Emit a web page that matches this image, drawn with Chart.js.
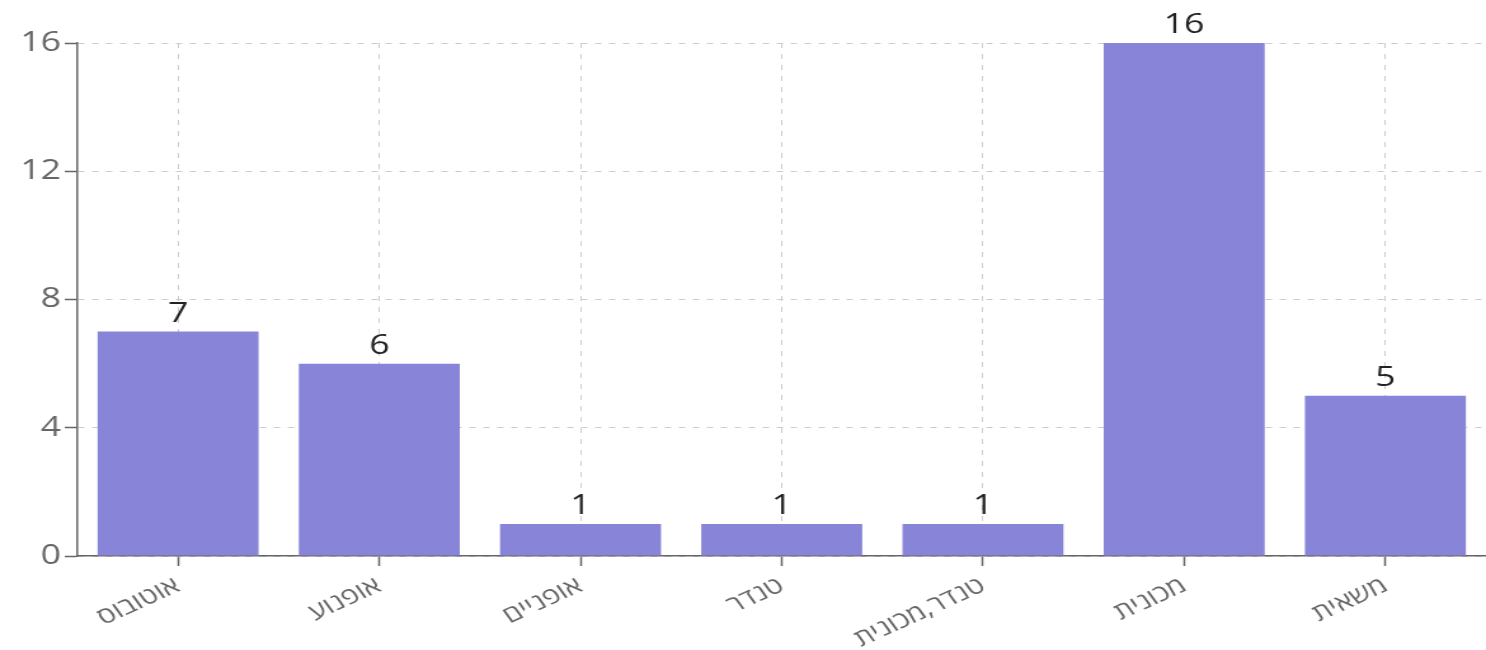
<!DOCTYPE html>
<html>
<head>
<meta charset="utf-8">
<script src="https://cdn.jsdelivr.net/npm/chart.js@4.4.1/dist/chart.umd.min.js"></script>
<style>
  html, body { margin: 0; padding: 0; background: #fff; overflow: hidden; }
  #chart { display: block; }
</style>
</head>
<body>
<!-- drawn narrower, then stretched sideways like the reference -->
<canvas id="chart" width="1170" height="650" style="width:1486px;height:650px"></canvas>
<script>
// categories and counts
const categories = ['אוטובוס', 'אופנוע', 'אופניים', 'טנדר', 'טנדר,מכונית', 'מכונית', 'משאית'];
const counts = [7, 6, 1, 1, 1, 16, 5];
const yTicks = [0, 4, 8, 12, 16];

const FONT = "'Open Sans', 'DejaVu Sans', sans-serif";

// numbers above each bar
const valueLabels = {
  id: 'valueLabels',
  afterDatasetsDraw(chart) {
    const ctx = chart.ctx;
    const meta = chart.getDatasetMeta(0);
    ctx.save();
    ctx.fillStyle = '#222';
    ctx.font = '28px ' + FONT;
    ctx.textAlign = 'center';
    ctx.textBaseline = 'alphabetic';
    meta.data.forEach((bar, i) => {
      ctx.fillText(String(counts[i]), bar.x, bar.y - 10);
    });
    ctx.restore();
  },
};

new Chart(document.getElementById('chart'), {
  type: 'bar',
  data: {
    labels: categories,
    datasets: [{
      data: counts,
      backgroundColor: '#8884d8',
      borderWidth: 0,
      categoryPercentage: 0.8,
      barPercentage: 1,
    }],
  },
  options: {
    responsive: false,
    animation: false,
    layout: { padding: { top: 43, left: 0, right: 0, bottom: 0 } },
    plugins: {
      legend: { display: false },
      tooltip: { enabled: false },
    },
    scales: {
      x: {
        afterFit: s => { s.height = 94; },
        grid: {
          offset: false,
          color: '#ccc',
          tickColor: '#666',
          tickLength: 10,
          tickWidth: 1.5,
        },
        border: { color: '#666', width: 1.5, dash: [5, 6] },
        ticks: {
          color: '#666',
          font: { family: FONT, size: 23 },
          minRotation: 30,
          maxRotation: 30,
          padding: 6,
          autoSkip: false,
        },
      },
      y: {
        min: 0,
        max: 16,
        afterFit: s => { s.width = 61; },
        afterBuildTicks: s => { s.ticks = yTicks.map(v => ({ value: v })); },
        grid: {
          color: '#ccc',
          tickColor: '#666',
          tickLength: 10,
          tickWidth: 1.5,
        },
        border: { color: '#666', width: 1.5, dash: [5, 6] },
        ticks: {
          color: '#666',
          font: { family: FONT, size: 28 },
          padding: 3,
        },
      },
    },
  },
  plugins: [valueLabels],
});
</script>
</body>
</html>
